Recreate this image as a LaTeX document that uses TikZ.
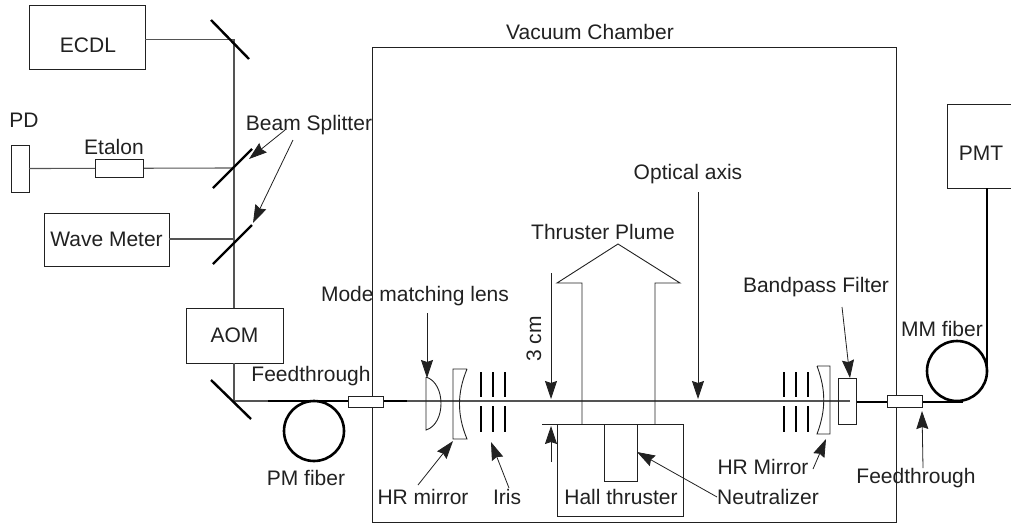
\documentclass[tikz,border=0pt]{standalone}
\usepackage{fontspec}
\setmainfont{Liberation Sans}
\usetikzlibrary{arrows.meta}
\definecolor{beamgray}{gray}{0.33}
\definecolor{inkgray}{gray}{0.13}

\begin{document}
\begin{tikzpicture}[
  x=1pt, y=-1pt,
  box/.style={draw=inkgray, line width=1pt, fill=white, inner sep=0pt, outer sep=0pt,
              font=\fontsize{21}{24}\selectfont, text=inkgray},
  label/.style={inner sep=0pt, font=\fontsize{21}{24}\selectfont, text=inkgray},
  beam/.style={draw=beamgray, line width=1.1pt},
  fiber/.style={draw=black, line width=2.6pt},
  mirror/.style={draw=black, line width=2.4pt},
  irisbar/.style={draw=black, line width=2.8pt},
  optic/.style={draw=inkgray, line width=0.9pt},
  pointer/.style={-{Stealth[length=18pt,width=12pt,inset=2pt]}, draw=inkgray, line width=0.8pt}
]
  \useasboundingbox (0,0) rectangle (1011,525);

  % chamber and thruster
  \node[box, fill=none, minimum width=524pt, minimum height=475pt] (chamber) at (634,284.5) {};
  \node[box, fill=none, minimum width=126pt, minimum height=92pt] (thruster) at (620,470) {};
  \node[box, fill=none, minimum width=33pt, minimum height=57pt] (neutral) at (620.5,452.5) {};

  % optical path points
  \coordinate (mirA) at (234,39.5);
  \coordinate (mirB) at (234,168);
  \coordinate (mirC) at (234,239);
  \coordinate (mirD) at (234,401);
  \coordinate (axisEnd) at (850,401);
  \coordinate (pmA) at (268,401);
  \coordinate (pmB) at (407,401);
  \coordinate (mmA) at (856,402);
  \coordinate (mmB) at (963,402);
  \coordinate (mmC) at (987,371);

  % boxes
  \node[box, minimum width=116pt, minimum height=64pt] (ecdl) at (87,37) {};
  \node[box, minimum width=18pt, minimum height=47pt] (pd) at (20,168.5) {};
  \node[box, minimum width=125pt, minimum height=53pt] (wave) at (106.5,239.5) {Wave Meter};
  \node[box, minimum width=97pt, minimum height=55pt] (aom) at (234.5,335.5) {AOM};
  \node[box, minimum width=70pt, minimum height=84pt] (pmt) at (982,146) {};

  % beams
  \draw[beam] (ecdl.east |- mirA) -- (mirA) -- (aom.north -| mirA);
  \draw[beam] (aom.south -| mirD) -- (mirD) -- (axisEnd);
  \draw[beam] (pd.east) -- (mirB);
  \draw[beam] (wave.east |- mirC) -- (mirC);

  % mirrors
  \draw[mirror] (211,20) -- (249,59);
  \draw[mirror] (213,188) -- (252,149);
  \draw[mirror] (213,264) -- (252,225);
  \draw[mirror] (211,380) -- (251,419);

  % fibers
  \draw[fiber] (pmA) -- (pmB);
  \draw[fiber] (314,431) circle (30);
  \draw[fiber] (mmA) -- (mmB);
  \draw[fiber] (957,371) circle (30);
  \draw[fiber] (pmt.south -| mmC) -- (mmC);

  % inline parts
  \node[box, minimum width=48pt, minimum height=18pt] (etalon) at (119,168) {};
  \node[box, minimum width=35pt, minimum height=11pt] (feedL) at (365.5,401.5) {};
  \node[box, minimum width=35pt, minimum height=12pt] (feedR) at (904.5,401) {};

  % lens and HR mirrors
  \draw[optic] (426,377) -- (426,430) .. controls (446,424) and (446,383) .. (426,377);
  \draw[optic] (467,369) -- (453,369) -- (453,439) -- (467,439)
    .. controls (457,415) and (457,393) .. (467,369);
  \draw[optic] (817,366) -- (830,366) -- (830,434) -- (817,434)
    .. controls (826,410) and (826,390) .. (817,366);
  \node[draw=inkgray, line width=0.9pt, inner sep=0pt, minimum width=18pt, minimum height=46pt] (filter) at (847,401) {};

  % irises
  \foreach \x in {481,493,505,784,796,808} {
    \draw[irisbar] (\x,372) -- (\x,397);
    \draw[irisbar] (\x,406) -- (\x,432);
  }

  % plume
  \draw[optic] (582,424) -- (582,283) -- (557,283) -- (618,244) -- (680,283) -- (655,283) -- (655,424);

  % labels
  \node[label] (lblecdl) at (88,45) {ECDL};
  \node[label] (lblpmt) at (981,153) {PMT};
  \node[label] (lblpd) at (24,120) {PD};
  \node[label] (lbletalon) at (114,147) {Etalon};
  \node[label] (lblsplit) at (309,125) {Beam Splitter};
  \node[label] (lblvac) at (590,32) {Vacuum Chamber};
  \node[label] (lblaxis) at (688,174) {Optical axis};
  \node[label] (lblplume) at (603,232) {Thruster Plume};
  \node[label] (lblmode) at (415,296) {Mode matching lens};
  \node[label] (lblfeedL) at (311,376) {Feedthrough};
  \node[label] (lblpm) at (306,478) {PM fiber};
  \node[label] (lblhrL) at (423,497) {HR mirror};
  \node[label] (lbliris) at (507,497) {Iris};
  \node[label] (lblhall) at (621,497) {Hall thruster};
  \node[label] (lblneutral) at (768,497) {Neutralizer};
  \node[label] (lblhrR) at (763,467) {HR Mirror};
  \node[label] (lblband) at (816,287) {Bandpass Filter};
  \node[label] (lblmm) at (942,329) {MM fiber};
  \node[label] (lblfeedR) at (916,478) {Feedthrough};
  \node[label, rotate=90] (lblcm) at (534,339) {3 cm};

  % pointers
  \draw[pointer] (285,130) -- (249,159);
  \draw[pointer] (293,140) -- (253,223);
  \draw[pointer] (427,313) -- (427,378);
  \draw[pointer] (418,485) -- (453,441);
  \draw[pointer] (509,488) -- (491,442);
  \draw[pointer] (551,273) -- (551,399);
  \draw[pointer] (551,462) -- (551,426);
  \draw[inkgray, line width=0.8pt] (542,424) -- (thruster.north west);
  \draw[pointer] (698,192) -- (698,399);
  \draw[pointer] (lblneutral.west) -- (neutral.east |- 0,452);
  \draw[pointer] (842,307) -- (850,378);
  \draw[pointer] (813,469) -- (826,439);
  \draw[pointer] (923,468) -- (922,411);
\end{tikzpicture}
\end{document}
